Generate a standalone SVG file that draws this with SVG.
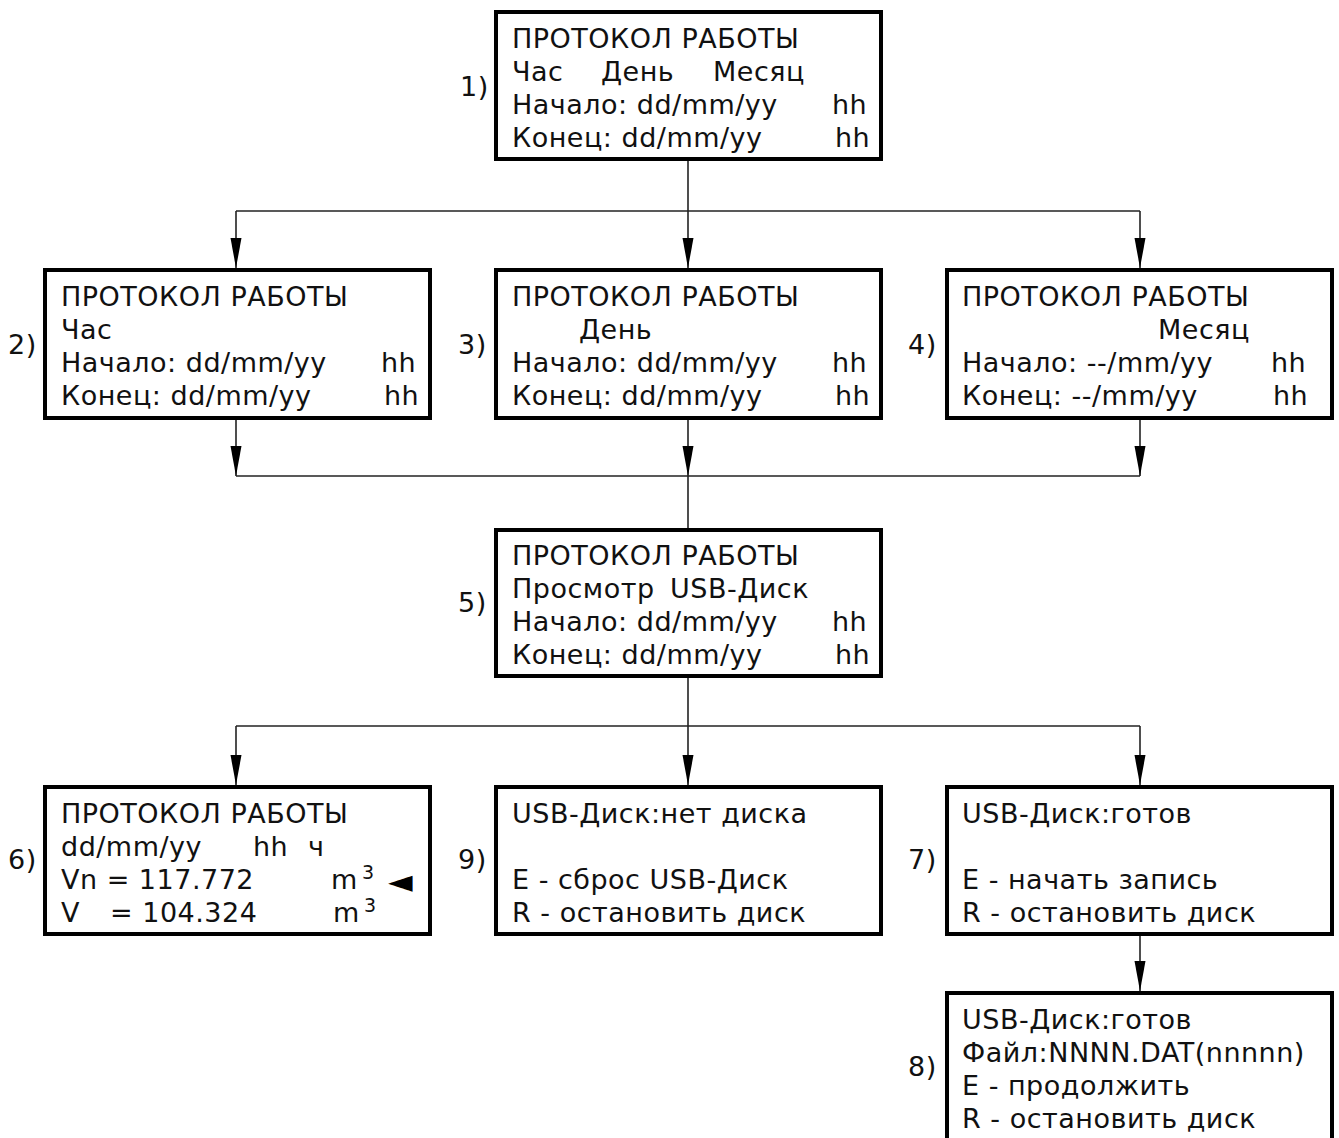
<svg xmlns="http://www.w3.org/2000/svg" width="1339" height="1138" viewBox="0 0 1339 1138">
<style>
.box{fill:#fff;stroke:#000;stroke-width:4}
.t{font-family:"DejaVu Sans",Verdana,sans-serif;font-size:27px;letter-spacing:0.5px;fill:#111}
.sup{font-family:"DejaVu Sans",Verdana,sans-serif;font-size:19px;fill:#111}
.tri{font-family:"DejaVu Sans",sans-serif;font-size:32px;fill:#000}
.ln{fill:none;stroke:#222;stroke-width:1.6}
</style>
<defs>
<marker id="ah" markerUnits="userSpaceOnUse" markerWidth="32" markerHeight="14" viewBox="-31 -7 32 14" refX="0" refY="0" orient="auto">
<path d="M0,0 L-30,-5.5 L-30,5.5 Z" fill="#000"/>
</marker>
</defs>
<rect width="1339" height="1138" fill="#fff"/>
<g id="connectors">
<line class="ln" x1="688" y1="159" x2="688" y2="211"/>
<line class="ln" x1="236" y1="211" x2="1140" y2="211"/>
<line class="ln" x1="236" y1="211" x2="236" y2="268" marker-end="url(#ah)"/>
<line class="ln" x1="688" y1="211" x2="688" y2="268" marker-end="url(#ah)"/>
<line class="ln" x1="1140" y1="211" x2="1140" y2="268" marker-end="url(#ah)"/>
<line class="ln" x1="236" y1="418" x2="236" y2="476" marker-end="url(#ah)"/>
<line class="ln" x1="688" y1="418" x2="688" y2="476" marker-end="url(#ah)"/>
<line class="ln" x1="1140" y1="418" x2="1140" y2="476" marker-end="url(#ah)"/>
<line class="ln" x1="236" y1="476" x2="1140" y2="476"/>
<line class="ln" x1="688" y1="476" x2="688" y2="530"/>
<line class="ln" x1="688" y1="676" x2="688" y2="726"/>
<line class="ln" x1="236" y1="726" x2="1140" y2="726"/>
<line class="ln" x1="236" y1="726" x2="236" y2="785" marker-end="url(#ah)"/>
<line class="ln" x1="688" y1="726" x2="688" y2="785" marker-end="url(#ah)"/>
<line class="ln" x1="1140" y1="726" x2="1140" y2="785" marker-end="url(#ah)"/>
<line class="ln" x1="1140" y1="934" x2="1140" y2="991" marker-end="url(#ah)"/>
</g>
<g id="node1">
<rect class="box" x="496" y="12" width="385" height="147"/>
<text class="t" x="460" y="96">1)</text>
<text class="t" x="512" y="48">ПРОТОКОЛ РАБОТЫ</text>
<text class="t" x="512" y="81">Час</text>
<text class="t" x="601" y="81">День</text>
<text class="t" x="713" y="81">Месяц</text>
<text class="t" x="512" y="114">Начало: dd/mm/yy</text>
<text class="t" x="832" y="114">hh</text>
<text class="t" x="512" y="147">Конец: dd/mm/yy</text>
<text class="t" x="835" y="147">hh</text>
</g>
<g id="node2">
<rect class="box" x="45" y="270" width="385" height="148"/>
<text class="t" x="8" y="354">2)</text>
<text class="t" x="61" y="306">ПРОТОКОЛ РАБОТЫ</text>
<text class="t" x="61" y="339">Час</text>
<text class="t" x="61" y="372">Начало: dd/mm/yy</text>
<text class="t" x="381" y="372">hh</text>
<text class="t" x="61" y="405">Конец: dd/mm/yy</text>
<text class="t" x="384" y="405">hh</text>
</g>
<g id="node3">
<rect class="box" x="496" y="270" width="385" height="148"/>
<text class="t" x="458" y="354">3)</text>
<text class="t" x="512" y="306">ПРОТОКОЛ РАБОТЫ</text>
<text class="t" x="579" y="339">День</text>
<text class="t" x="512" y="372">Начало: dd/mm/yy</text>
<text class="t" x="832" y="372">hh</text>
<text class="t" x="512" y="405">Конец: dd/mm/yy</text>
<text class="t" x="835" y="405">hh</text>
</g>
<g id="node4">
<rect class="box" x="947" y="270" width="385" height="148"/>
<text class="t" x="908" y="354">4)</text>
<text class="t" x="962" y="306">ПРОТОКОЛ РАБОТЫ</text>
<text class="t" x="1158" y="339">Месяц</text>
<text class="t" x="962" y="372">Начало: --/mm/yy</text>
<text class="t" x="1271" y="372">hh</text>
<text class="t" x="962" y="405">Конец: --/mm/yy</text>
<text class="t" x="1273" y="405">hh</text>
</g>
<g id="node5">
<rect class="box" x="496" y="530" width="385" height="146"/>
<text class="t" x="458" y="612">5)</text>
<text class="t" x="512" y="565">ПРОТОКОЛ РАБОТЫ</text>
<text class="t" x="512" y="598">Просмотр</text>
<text class="t" x="670" y="598">USB-Диск</text>
<text class="t" x="512" y="631">Начало: dd/mm/yy</text>
<text class="t" x="832" y="631">hh</text>
<text class="t" x="512" y="664">Конец: dd/mm/yy</text>
<text class="t" x="835" y="664">hh</text>
</g>
<g id="node6">
<rect class="box" x="45" y="787" width="385" height="147"/>
<text class="t" x="8" y="869">6)</text>
<text class="t" x="61" y="823">ПРОТОКОЛ РАБОТЫ</text>
<text class="t" x="61" y="856">dd/mm/yy</text>
<text class="t" x="253" y="856">hh</text>
<text class="t" x="308" y="856">ч</text>
<text class="t" x="61" y="889">Vn = 117.772</text>
<text class="t" x="331" y="889">m</text>
<text class="sup" x="362" y="879">3</text>
<text class="tri" x="388" y="892">◄</text>
<text class="t" x="61" y="922">V</text>
<text class="t" x="110" y="922">= 104.324</text>
<text class="t" x="333" y="922">m</text>
<text class="sup" x="364" y="912">3</text>
</g>
<g id="node9">
<rect class="box" x="496" y="787" width="385" height="147"/>
<text class="t" x="458" y="869">9)</text>
<text class="t" x="512" y="823">USB-Диск:нет диска</text>
<text class="t" x="512" y="889">E - сброс USB-Диск</text>
<text class="t" x="512" y="922">R - остановить диск</text>
</g>
<g id="node7">
<rect class="box" x="947" y="787" width="385" height="147"/>
<text class="t" x="908" y="869">7)</text>
<text class="t" x="962" y="823">USB-Диск:готов</text>
<text class="t" x="962" y="889">E - начать запись</text>
<text class="t" x="962" y="922">R - остановить диск</text>
</g>
<g id="node8">
<rect class="box" x="947" y="993" width="385" height="160"/>
<text class="t" x="908" y="1076">8)</text>
<text class="t" x="962" y="1029">USB-Диск:готов</text>
<text class="t" x="962" y="1062">Файл:NNNN.DAT(nnnnn)</text>
<text class="t" x="962" y="1095">E - продолжить</text>
<text class="t" x="962" y="1128">R - остановить диск</text>
</g>
</svg>
